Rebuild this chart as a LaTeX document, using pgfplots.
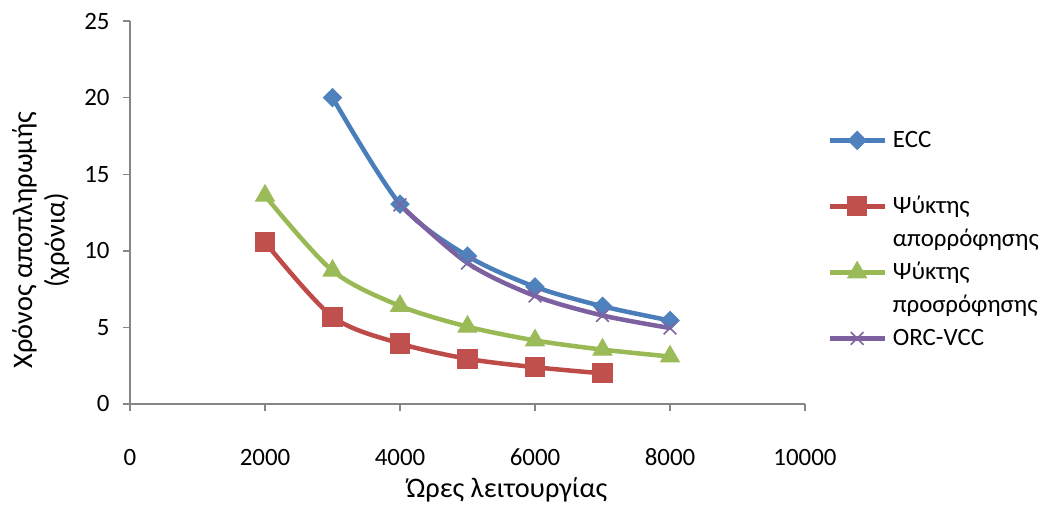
\documentclass[border=0pt]{standalone}
\usepackage{fontspec}
\setmainfont{Carlito}
\usepackage{pgfplots}
\pgfplotsset{compat=1.18}
\definecolor{cBlue}{HTML}{4A7EBB}
\definecolor{cBlueM}{HTML}{4F81BD}
\definecolor{cRed}{HTML}{BE4B48}
\definecolor{cRedM}{HTML}{C0504D}
\definecolor{cGreen}{HTML}{98B954}
\definecolor{cGreenM}{HTML}{9BBB59}
\definecolor{cPurple}{HTML}{7D60A0}
\definecolor{cPurpleM}{HTML}{8064A2}
\definecolor{axgray}{HTML}{868686}
\begin{document}
\fontsize{12.5}{15.5}\selectfont
\begin{tikzpicture}
\begin{axis}[
  scale only axis,
  width=337.5bp, height=191.5bp,
  xmin=0, xmax=10000, ymin=0, ymax=25,
  xtick={0,2000,4000,6000,8000,10000},
  ytick={0,5,10,15,20,25},
  scaled x ticks=false,
  /pgf/number format/assume math mode=true,
  /pgf/number format/set thousands separator={},
  axis x line*=bottom, axis y line*=left,
  axis line style={-, draw=axgray, line width=0.7bp},
  tick style={draw=axgray, line width=0.7bp},
  tick align=outside,
  major tick length=3.5bp,
  xticklabel style={anchor=base, inner sep=0pt, yshift=-27bp},
  yticklabel style={anchor=east, inner sep=0pt, xshift=-6.5bp},
  xlabel={Ώρες λειτουργίας},
  xlabel style={font=\fontsize{14.2}{17}\selectfont, at={(axis description cs:0.5585,-0.2454)}, anchor=base, inner sep=0pt},
  ylabel={Χρόνος αποπληρωμής\\(χρόνια)},
  ylabel style={font=\fontsize{14.2}{16.3}\selectfont, align=center, at={(axis description cs:-0.132,0.428)}, anchor=center, inner sep=0pt},
  legend style={at={(axis description cs:1.0326,0.7324)}, anchor=north west, draw=none, fill=none,
    inner sep=0pt, column sep=3bp, row sep=0pt,
    nodes={inner sep=0pt, text height=12bp, text depth=4.5bp}},
  legend cell align=left,
  legend image code/.code={\draw[mark repeat=2, mark phase=2, #1] plot coordinates {(0bp,0bp) (13.75bp,0bp) (27.5bp,0bp)};},
]
\addplot[cBlue, line width=2.25bp, smooth, tension=0.5, mark=square*, mark size=3.2bp,
  mark options={rotate=45, fill=cBlueM, draw=cBlueM, line width=0.5bp}]
  coordinates {(3000,20) (4000,13.05) (5000,9.66) (6000,7.65) (7000,6.38) (8000,5.45)};
\addlegendentry{ECC}
\addlegendimage{empty legend}\addlegendentry{}
\addplot[cRed, line width=2.25bp, smooth, tension=0.5, mark=square*, mark size=4.8bp,
  mark options={fill=cRedM, draw=cRedM, line width=0.5bp}]
  coordinates {(2000,10.57) (3000,5.7) (4000,3.95) (5000,2.95) (6000,2.4) (7000,2.0)};
\addlegendentry{Ψύκτης}
\addlegendimage{empty legend}\addlegendentry{απορρόφησης}
\addplot[cGreen, line width=2.25bp, smooth, tension=0.5, mark=triangle*, mark size=5.4bp,
  mark options={fill=cGreenM, draw=cGreenM, line width=0.5bp}]
  coordinates {(2000,13.6) (3000,8.7) (4000,6.4) (5000,5.05) (6000,4.15) (7000,3.55) (8000,3.1)};
\addlegendentry{Ψύκτης}
\addlegendimage{empty legend}\addlegendentry{προσρόφησης}
\addplot[cPurple, line width=2.25bp, smooth, tension=0.5, mark=x, mark size=4.5bp,
  mark options={draw=cPurpleM, line width=0.8bp}]
  coordinates {(4000,13.0) (5000,9.2) (6000,7.05) (7000,5.78) (8000,4.96)};
\addlegendentry{ORC-VCC}
\coordinate (O) at (rel axis cs:0,0);
\end{axis}
\pgfresetboundingbox
\path[use as bounding box] (O) ++(-65bp,-53bp) rectangle ++(523.5bp,255bp);
\end{tikzpicture}
\end{document}
